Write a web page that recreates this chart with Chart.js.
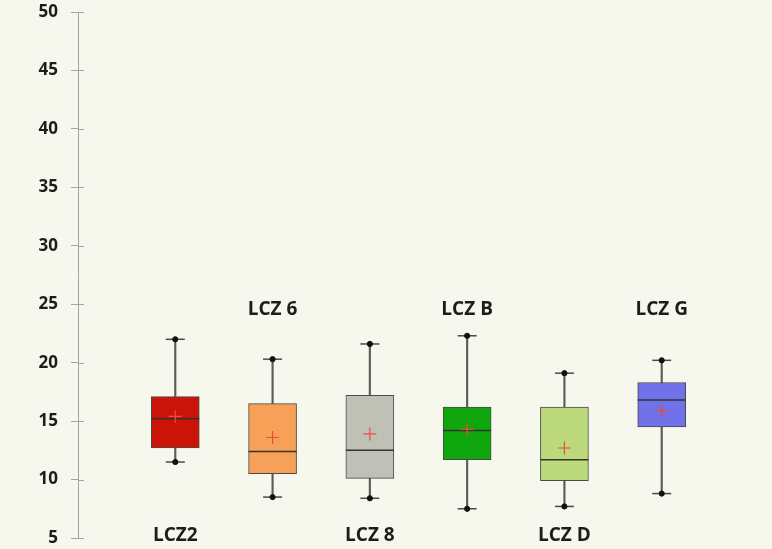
<!DOCTYPE html>
<html lang="en">
    <head>
        <meta charset="UTF-8">
        <script src="https://cdn.jsdelivr.net/npm/chart.js"></script>
        <style>
            html, body {
                margin: 0;
                padding: 0;
                background: #f6f8ee;
            }

            #wrap {
                width: 772px;
                height: 549px;
            }
        </style>
        <title>LCZ box plots</title>
    </head>
    <body>
        <div id="wrap"><canvas id="chart"></canvas></div>
    </body>
    <script>
        // one box per zone
        const categories = ['LCZ2', 'LCZ 6', 'LCZ 8', 'LCZ B', 'LCZ D', 'LCZ G'];
        const minima  = [11.5,  8.5,  8.4,  7.5,  7.7,  8.8];
        const q1      = [12.7, 10.5, 10.1, 11.7,  9.9, 14.5];
        const medians = [15.2, 12.4, 12.5, 14.2, 11.7, 16.8];
        const q3      = [17.1, 16.5, 17.2, 16.2, 16.2, 18.3];
        const maxima  = [22.0, 20.3, 21.6, 22.3, 19.1, 20.2];
        const means   = [15.4, 13.6, 13.9, 14.3, 12.7, 15.9];
        const yTicks  = [5, 10, 15, 20, 25, 30, 35, 40, 45, 50];

        const boxColors = ['#cc1308', '#f7a057', '#bfc1b6', '#10a60e', '#bcda7b', '#7171ea'];

        const pos = categories.map((c, i) => i + 1);
        const pts = arr => arr.map((v, i) => ({x: pos[i], y: v}));
        const range = (lo, hi) => lo.map((v, i) => ({x: pos[i], y: [v, hi[i]]}));

        const marker = (data, style, radius, color, width, order) => ({
            type: 'line',
            data: data,
            showLine: false,
            pointStyle: style,
            pointRadius: radius,
            pointHoverRadius: radius,
            pointBorderColor: color,
            pointBackgroundColor: color,
            pointBorderWidth: width,
            order: order
        });

        // category names alternate bottom / top, drawn inside the plot
        const zoneLabels = {
            id: 'zoneLabels',
            afterDatasetsDraw(chart) {
                const {ctx, scales: {x, y}, chartArea} = chart;
                ctx.save();
                ctx.font = 'bold 19px "Open Sans"';
                ctx.fillStyle = '#1d1d1b';
                ctx.textAlign = 'center';
                ctx.textBaseline = 'middle';
                categories.forEach((c, i) => {
                    const ty = i % 2 === 0 ? chartArea.bottom - 2 : y.getPixelForValue(24.5);
                    ctx.fillText(c, x.getPixelForValue(pos[i]), ty);
                });
                // inner half of the y tick marks
                ctx.strokeStyle = '#a3a49c';
                ctx.lineWidth = 1;
                yTicks.forEach(v => {
                    const py = Math.round(y.getPixelForValue(v)) + 0.5;
                    ctx.beginPath();
                    ctx.moveTo(chartArea.left, py);
                    ctx.lineTo(chartArea.left + 6, py);
                    ctx.stroke();
                });
                ctx.restore();
            }
        };

        new Chart(document.getElementById('chart'), {
            type: 'bar',
            data: {
                datasets: [
                    {
                        // whiskers
                        data: range(minima, maxima),
                        backgroundColor: '#5c5c58',
                        barThickness: 1.5,
                        grouped: false,
                        order: 6
                    },
                    {
                        // boxes
                        data: range(q1, q3),
                        backgroundColor: boxColors,
                        borderColor: '#4a4a46',
                        borderWidth: 1,
                        borderSkipped: false,
                        barThickness: 48,
                        grouped: false,
                        order: 5
                    },
                    marker(pts(medians), 'line', 24, '#333331', 1.5, 4),
                    marker(pts(minima), 'line', 9.5, '#4a4a46', 1.5, 3),
                    marker(pts(maxima), 'line', 9.5, '#4a4a46', 1.5, 3),
                    marker(pts(minima), 'circle', 2.6, '#111111', 1, 2),
                    marker(pts(maxima), 'circle', 2.6, '#111111', 1, 2),
                    marker(pts(means), 'cross', 6.5, '#ec4a3c', 1.2, 1)
                ]
            },
            options: {
                responsive: true,
                maintainAspectRatio: false,
                animation: false,
                layout: {
                    autoPadding: false,
                    padding: {top: 12, right: 13, bottom: 11, left: 0}
                },
                plugins: {
                    legend: {display: false},
                    tooltip: {enabled: false}
                },
                scales: {
                    x: {
                        type: 'linear',
                        min: 0,
                        max: 7,
                        offset: false,
                        display: false
                    },
                    y: {
                        min: 5,
                        max: 50,
                        afterFit: s => {
                            s.width = 78;
                            s.paddingTop = 0;
                            s.paddingBottom = 0;
                        },
                        afterBuildTicks: s => { s.ticks = yTicks.map(v => ({value: v})); },
                        border: {
                            display: true,
                            color: '#a3a49c',
                            width: 1
                        },
                        grid: {
                            drawOnChartArea: false,
                            tickLength: 7,
                            color: '#a3a49c'
                        },
                        ticks: {
                            padding: 13,
                            color: '#1d1d1b',
                            font: {family: '"Open Sans"', size: 17, weight: 'bold'}
                        }
                    }
                }
            },
            plugins: [zoneLabels]
        });
    </script>
</html>
